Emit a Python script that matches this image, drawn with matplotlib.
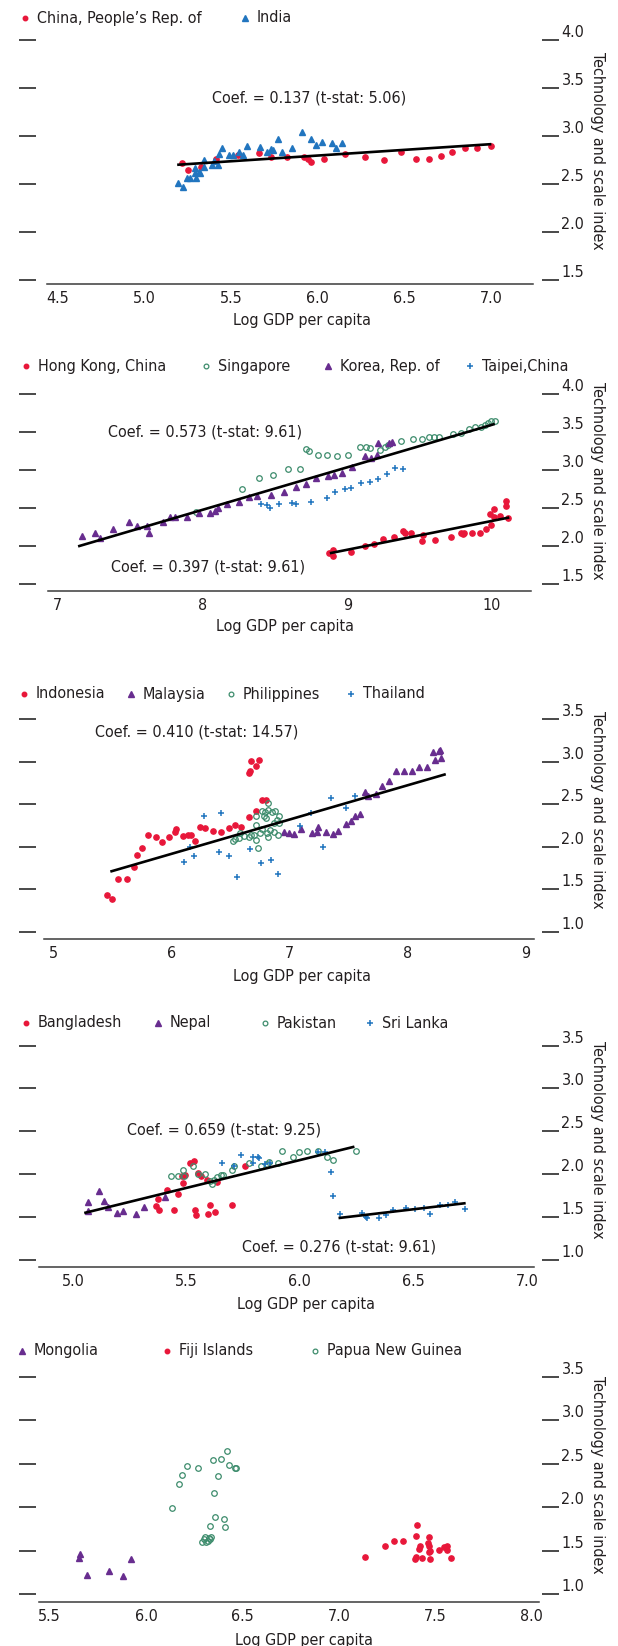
#!/usr/bin/env python3

import matplotlib
matplotlib.use("Agg")
import matplotlib.pyplot as plt
from matplotlib import font_manager
from matplotlib.lines import Line2D

W, H = 618, 1646

RED = "#e8173a"
BLUE = "#2175bf"
PURPLE = "#682d8f"
GREEN = "#3d8c6c"
INK = "#231f20"

# ---------- panel 1: China / India ----------
china_x = [5.217, 5.255, 5.329, 5.416, 5.542, 5.661, 5.729, 5.821, 5.919, 5.942, 5.961, 6.034,
           6.155, 6.274, 6.384, 6.480, 6.565, 6.641, 6.709, 6.773, 6.847, 6.920, 7.000]
china_y = [2.722, 2.646, 2.681, 2.757, 2.799, 2.826, 2.778, 2.778, 2.778, 2.764, 2.733, 2.760,
           2.813, 2.781, 2.750, 2.837, 2.760, 2.757, 2.795, 2.830, 2.878, 2.878, 2.896]
india_x = [5.194, 5.221, 5.249, 5.262, 5.290, 5.290, 5.297, 5.313, 5.324, 5.342, 5.347, 5.393,
           5.404, 5.423, 5.432, 5.446, 5.491, 5.514, 5.549, 5.571, 5.594, 5.668, 5.709, 5.732,
           5.743, 5.771, 5.794, 5.851, 5.908, 5.961, 5.988, 6.027, 6.080, 6.103, 6.137]
india_y = [2.514, 2.465, 2.559, 2.559, 2.611, 2.663, 2.559, 2.628, 2.611, 2.750, 2.681, 2.698,
           2.743, 2.698, 2.813, 2.872, 2.802, 2.802, 2.837, 2.802, 2.896, 2.882, 2.837, 2.865,
           2.854, 2.965, 2.837, 2.872, 3.045, 2.965, 2.906, 2.941, 2.931, 2.878, 2.924]
fit1_x = [5.19, 7.00]
fit1_y = [2.70, 2.915]

# ---------- panel 2: Hong Kong / Singapore / Korea / Taipei ----------
hk_x = [8.876, 8.904, 8.904, 9.025, 9.124, 9.184, 9.245, 9.321, 9.385, 9.398, 9.440, 9.519,
        9.527, 9.610, 9.720, 9.783, 9.797, 9.810, 9.865, 9.920, 9.959, 9.986, 9.995, 10.014,
        10.016, 10.058, 10.099, 10.099, 10.113]
hk_y = [1.917, 1.952, 1.873, 1.925, 2.009, 2.031, 2.092, 2.118, 2.202, 2.180, 2.180, 2.070,
        2.149, 2.083, 2.118, 2.180, 2.162, 2.180, 2.180, 2.180, 2.232, 2.425, 2.281, 2.382,
        2.496, 2.399, 2.601, 2.535, 2.368]
sing_x = [7.953, 8.272, 8.387, 8.484, 8.588, 8.676, 8.712, 8.739, 8.799, 8.860, 8.931, 9.005,
          9.088, 9.129, 9.157, 9.225, 9.261, 9.280, 9.371, 9.453, 9.514, 9.563, 9.602, 9.637,
          9.728, 9.788, 9.843, 9.885, 9.926, 9.953, 9.975, 9.995, 10.022]
sing_y = [2.456, 2.754, 2.895, 2.943, 3.022, 3.022, 3.276, 3.254, 3.202, 3.202, 3.189, 3.206,
          3.311, 3.311, 3.289, 3.268, 3.311, 3.333, 3.390, 3.412, 3.417, 3.434, 3.434, 3.443,
          3.478, 3.496, 3.539, 3.566, 3.566, 3.596, 3.627, 3.649, 3.649]
korea_x = [7.165, 7.255, 7.288, 7.379, 7.489, 7.549, 7.618, 7.632, 7.728, 7.777, 7.810, 7.893,
           7.975, 8.052, 8.085, 8.107, 8.168, 8.255, 8.319, 8.374, 8.470, 8.560, 8.648, 8.712,
           8.786, 8.868, 8.909, 8.964, 9.033, 9.124, 9.162, 9.206, 9.212, 9.288, 9.308]
korea_y = [2.136, 2.171, 2.105, 2.232, 2.320, 2.272, 2.272, 2.180, 2.316, 2.382, 2.382, 2.382,
           2.443, 2.434, 2.469, 2.500, 2.553, 2.588, 2.645, 2.662, 2.675, 2.715, 2.776, 2.816,
           2.904, 2.930, 2.939, 2.961, 3.039, 3.189, 3.158, 3.202, 3.355, 3.355, 3.377]
taipei_x = [8.401, 8.448, 8.464, 8.530, 8.621, 8.648, 8.750, 8.860, 8.918, 8.986, 9.027, 9.093,
            9.157, 9.212, 9.272, 9.330, 9.382]
taipei_y = [2.557, 2.544, 2.509, 2.553, 2.566, 2.553, 2.588, 2.640, 2.715, 2.750, 2.763, 2.838,
            2.851, 2.882, 2.947, 3.026, 3.018]
fit2a_x = [7.14, 10.02]
fit2a_y = [2.00, 3.61]
fit2b_x = [8.88, 10.12]
fit2b_y = [1.91, 2.38]

# ---------- panel 3: Indonesia / Malaysia / Philippines / Thailand ----------
indo_x = [5.455, 5.498, 5.549, 5.623, 5.677, 5.710, 5.744, 5.801, 5.869, 5.919, 5.976, 6.027,
          6.040, 6.094, 6.138, 6.162, 6.195, 6.236, 6.279, 6.347, 6.414, 6.481, 6.532, 6.589,
          6.650, 6.717, 6.768, 6.801, 6.650, 6.660, 6.673, 6.710, 6.741]
indo_y = [1.430, 1.391, 1.626, 1.626, 1.763, 1.908, 1.986, 2.135, 2.111, 2.056, 2.111, 2.174,
          2.213, 2.123, 2.142, 2.142, 2.072, 2.240, 2.221, 2.193, 2.174, 2.221, 2.260, 2.240,
          2.346, 2.428, 2.553, 2.553, 2.874, 2.897, 3.015, 2.956, 3.023]
malay_x = [6.953, 6.997, 7.037, 7.098, 7.189, 7.232, 7.239, 7.306, 7.367, 7.407, 7.475, 7.519,
           7.552, 7.593, 7.636, 7.660, 7.727, 7.778, 7.838, 7.902, 7.963, 8.030, 8.091, 8.158,
           8.215, 8.266, 8.232, 8.276, 8.273]
malay_y = [2.174, 2.162, 2.150, 2.209, 2.162, 2.174, 2.229, 2.174, 2.150, 2.182, 2.268, 2.307,
           2.358, 2.389, 2.643, 2.600, 2.624, 2.721, 2.780, 2.897, 2.897, 2.894, 2.944, 2.937,
           3.113, 3.132, 3.023, 3.042, 3.140]
phil_x = [6.515, 6.539, 6.566, 6.582, 6.616, 6.650, 6.673, 6.700, 6.710, 6.710, 6.717, 6.734,
          6.751, 6.768, 6.778, 6.791, 6.795, 6.808, 6.818, 6.818, 6.835, 6.845, 6.862, 6.869,
          6.875, 6.892, 6.902, 6.909, 6.912, 6.818, 6.768]
phil_y = [2.072, 2.092, 2.103, 2.162, 2.123, 2.111, 2.135, 2.135, 2.076, 2.358, 2.260, 1.986,
          2.162, 2.209, 2.358, 2.416, 2.338, 2.162, 2.436, 2.111, 2.201, 2.416, 2.279, 2.174,
          2.424, 2.319, 2.142, 2.365, 2.279, 2.514, 2.424]
thai_x = [6.104, 6.155, 6.189, 6.273, 6.397, 6.421, 6.481, 6.556, 6.660, 6.758, 6.842, 6.902,
          7.088, 7.182, 7.279, 7.347, 7.475, 7.552]
thai_y = [1.825, 2.005, 1.896, 2.358, 1.939, 2.397, 1.888, 1.646, 1.978, 1.810, 1.849, 1.677,
          2.248, 2.397, 1.998, 2.577, 2.455, 2.604]
fit3_x = [5.48, 8.32]
fit3_y = [1.71, 2.855]

# ---------- panel 4: Bangladesh / Nepal / Pakistan / Sri Lanka ----------
bang_x = [5.368, 5.377, 5.380, 5.415, 5.445, 5.462, 5.482, 5.485, 5.494, 5.517, 5.532, 5.538,
          5.541, 5.550, 5.564, 5.590, 5.594, 5.604, 5.625, 5.634, 5.701, 5.757]
bang_y = [1.630, 1.708, 1.575, 1.817, 1.575, 1.766, 1.972, 1.894, 1.984, 2.135, 2.155, 1.575,
          1.525, 2.011, 1.972, 1.933, 1.533, 1.641, 1.560, 1.902, 1.641, 2.100]
nepal_x = [5.068, 5.117, 5.138, 5.156, 5.193, 5.222, 5.278, 5.313, 5.406, 5.068]
nepal_y = [1.673, 1.797, 1.680, 1.614, 1.544, 1.572, 1.537, 1.610, 1.731, 1.572]
pak_x = [5.433, 5.462, 5.485, 5.489, 5.529, 5.550, 5.581, 5.604, 5.613, 5.622, 5.634, 5.651,
         5.660, 5.701, 5.709, 5.774, 5.827, 5.853, 5.862, 5.905, 5.923, 5.970, 5.996, 6.032,
         6.081, 6.119, 6.145, 6.247]
pak_y = [1.972, 1.980, 2.042, 1.972, 2.089, 1.999, 1.999, 1.914, 1.883, 1.933, 1.964, 1.988,
         1.984, 2.050, 2.096, 2.135, 2.100, 2.120, 2.139, 2.135, 2.264, 2.198, 2.260, 2.275,
         2.264, 2.198, 2.159, 2.275]
sri_x = [5.655, 5.709, 5.739, 5.792, 5.795, 5.814, 5.818, 5.844, 5.870, 6.081, 6.112, 6.137,
         6.145, 6.177, 6.273, 6.291, 6.294, 6.347, 6.378, 6.410, 6.466, 6.506, 6.545, 6.571,
         6.615, 6.653, 6.685, 6.729]
sri_y = [2.135, 2.100, 2.217, 2.198, 2.128, 2.198, 2.186, 2.120, 2.128, 2.256, 2.252, 2.023,
         1.747, 1.533, 1.544, 1.498, 1.482, 1.486, 1.525, 1.575, 1.603, 1.591, 1.603, 1.537,
         1.641, 1.641, 1.669, 1.595]
fit4a_x = [5.05, 6.24]
fit4a_y = [1.545, 2.32]
fit4b_x = [6.17, 6.73]
fit4b_y = [1.486, 1.66]

# ---------- panel 5: Mongolia / Fiji / Papua New Guinea ----------
mong_x = [5.649, 5.655, 5.692, 5.809, 5.882, 5.923]
mong_y = [1.410, 1.460, 1.219, 1.265, 1.211, 1.399]
fiji_x = [7.134, 7.237, 7.284, 7.332, 7.404, 7.398, 7.414, 7.418, 7.394, 7.398, 7.429, 7.464,
          7.460, 7.464, 7.470, 7.466, 7.470, 7.521, 7.542, 7.559, 7.559, 7.579]
fiji_y = [1.429, 1.556, 1.610, 1.610, 1.794, 1.671, 1.514, 1.556, 1.403, 1.429, 1.410, 1.652,
          1.583, 1.552, 1.499, 1.479, 1.399, 1.506, 1.537, 1.552, 1.506, 1.418]
png_x = [6.135, 6.170, 6.187, 6.210, 6.267, 6.329, 6.346, 6.352, 6.356, 6.370, 6.387, 6.403,
         6.410, 6.418, 6.428, 6.459, 6.465, 6.290, 6.298, 6.304, 6.311, 6.319, 6.325, 6.331, 6.335]
png_y = [1.985, 2.265, 2.365, 2.472, 2.446, 1.778, 2.541, 2.162, 1.890, 2.357, 2.553, 1.859,
         1.767, 2.641, 2.480, 2.453, 2.453, 1.594, 1.629, 1.660, 1.602, 1.613, 1.640, 1.629, 1.660]

STYLES = {
    "dot": dict(marker="o", color=RED, markersize=3.8, linestyle="none"),
    "tri": dict(marker="^", color=PURPLE, markersize=4.4, linestyle="none"),
    "tri_blue": dict(marker="^", color=BLUE, markersize=4.4, linestyle="none"),
    "ring": dict(marker="o", markerfacecolor="none", markeredgecolor=GREEN, markeredgewidth=0.9,
                 markersize=4.0, linestyle="none"),
    "plus": dict(marker="+", color=BLUE, markersize=4.7, markeredgewidth=1.1, linestyle="none"),
}

# narrow font if we can find one, the original uses a condensed face
FS = 11.5
names = {f.name for f in font_manager.fontManager.ttflist}
cond = [f for f in font_manager.fontManager.ttflist
        if f.name == "DejaVu Sans" and f.stretch == "condensed" and f.weight in (400, "normal")]
if "Liberation Sans Narrow" in names:
    plt.rcParams["font.family"] = ["Liberation Sans Narrow", "DejaVu Sans"]
    FS = 12.5
elif cond:
    plt.rcParams["font.family"] = ["DejaVu Sans"]
    plt.rcParams["font.stretch"] = "condensed"
    FS = 11.5
elif "Roboto Condensed" in names:
    plt.rcParams["font.family"] = ["Roboto Condensed", "DejaVu Sans"]
    FS = 12.5
else:
    plt.rcParams["font.family"] = ["Roboto", "DejaVu Sans"]
    FS = 11.5
plt.rcParams["font.size"] = FS
plt.rcParams["text.color"] = INK

fig = plt.figure(figsize=(W / 100, H / 100), dpi=100)


def fx(px):
    return px / W


def fy(py):
    return 1 - py / H


def make_axes(left, right, top, bottom, xlim, xticks, xlabels, ylim, yticks):
    ax = fig.add_axes([fx(left), fy(bottom), fx(right - left), (bottom - top) / H])
    ax.set_xlim(*xlim)
    ax.set_ylim(*ylim)
    ax.set_xticks(xticks)
    ax.set_xticklabels(xlabels)
    ax.set_yticks(yticks)
    ax.set_yticklabels(["%.1f" % v for v in yticks])
    for s in ["top", "left", "right"]:
        ax.spines[s].set_visible(False)
    ax.spines["bottom"].set_color("#3a3a3a")
    ax.spines["bottom"].set_linewidth(1.1)
    # dash ticks start at fixed pixel columns
    ax.spines["left"].set_position(("outward", max(left - 36, 0) * 0.72))
    ax.spines["right"].set_position(("outward", max(542 - right, 0) * 0.72))
    ax.tick_params(axis="x", length=0, pad=5, colors=INK, labelsize=FS)
    ax.tick_params(axis="y", left=True, right=True, labelleft=False, labelright=True,
                   length=12, width=1.3, color="#3a3a3a", pad=2, labelsize=FS,
                   labelcolor=INK)
    for t in ax.yaxis.get_major_ticks():
        t.label2.set_va("bottom")
    ax.set_facecolor("none")
    return ax


def legend_item(x, y, style, text):
    st = dict(STYLES[style])
    st["markersize"] = st["markersize"] * 0.85
    fig.add_artist(Line2D([fx(x)], [fy(y)], transform=fig.transFigure, **st))
    fig.text(fx(x + 12), fy(y), text, va="center", ha="left", fontsize=FS)


def side_labels(ycenter, xlab_x, xlab_y):
    fig.text(fx(597), fy(ycenter), "Technology and scale index", rotation=270,
             va="center", ha="center", fontsize=FS)
    fig.text(fx(xlab_x), fy(xlab_y), "Log GDP per capita", va="center", ha="center",
             fontsize=FS)


def scatter(ax, xs, ys, style):
    ax.plot(xs, ys, clip_on=False, **STYLES[style])


def fit(ax, xs, ys):
    ax.plot(xs, ys, color="black", linewidth=1.9, solid_capstyle="butt")


# panel 1
ax1 = make_axes(47, 533, 40, 284, (4.44, 7.24), [4.5, 5.0, 5.5, 6.0, 6.5, 7.0],
                ["4.5", "5.0", "5.5", "6.0", "6.5", "7.0"], (1.458, 4.0),
                [1.5, 2.0, 2.5, 3.0, 3.5, 4.0])
scatter(ax1, china_x, china_y, "dot")
scatter(ax1, india_x, india_y, "tri_blue")
fit(ax1, fit1_x, fit1_y)
ax1.text(5.95, 3.40, "Coef. = 0.137 (t-stat: 5.06)", ha="center", va="center")
legend_item(25, 18, "dot", "China, People\u2019s Rep. of")
legend_item(245, 18, "tri_blue", "India")
side_labels(151, 302, 320)

# panel 2
ax2 = make_axes(47.7, 531, 394.3, 590.7, (6.93, 10.27), [7, 8, 9, 10],
                ["7", "8", "9", "10"], (1.417, 4.0), [1.5, 2.0, 2.5, 3.0, 3.5, 4.0])
scatter(ax2, hk_x, hk_y, "dot")
scatter(ax2, sing_x, sing_y, "ring")
scatter(ax2, korea_x, korea_y, "tri")
scatter(ax2, taipei_x, taipei_y, "plus")
fit(ax2, fit2a_x, fit2a_y)
fit(ax2, fit2b_x, fit2b_y)
ax2.text(8.016, 3.509, "Coef. = 0.573 (t-stat: 9.61)", ha="center", va="center")
ax2.text(8.036, 1.724, "Coef. = 0.397 (t-stat: 9.61)", ha="center", va="center")
legend_item(26, 366, "dot", "Hong Kong, China")
legend_item(206, 366, "ring", "Singapore")
legend_item(328, 366, "tri", "Korea, Rep. of")
legend_item(470, 366, "plus", "Taipei,China")
side_labels(481, 285, 627)

# panel 3
ax3 = make_axes(43.7, 534, 719.3, 939, (4.916, 9.067), [5, 6, 7, 8, 9],
                ["5", "6", "7", "8", "9"], (0.918, 3.5), [1.0, 1.5, 2.0, 2.5, 3.0, 3.5])
scatter(ax3, indo_x, indo_y, "dot")
scatter(ax3, malay_x, malay_y, "tri")
scatter(ax3, phil_x, phil_y, "ring")
scatter(ax3, thai_x, thai_y, "plus")
fit(ax3, fit3_x, fit3_y)
ax3.text(6.212, 3.355, "Coef. = 0.410 (t-stat: 14.57)", ha="center", va="center")
legend_item(24, 694, "dot", "Indonesia")
legend_item(131, 694, "tri", "Malaysia")
legend_item(231, 694, "ring", "Philippines")
legend_item(351, 694, "plus", "Thailand")
side_labels(810, 302, 976)

# panel 4
ax4 = make_axes(38.6, 534, 1045.7, 1267, (4.849, 7.031), [5.0, 5.5, 6.0, 6.5, 7.0],
                ["5.0", "5.5", "6.0", "6.5", "7.0"], (0.914, 3.5),
                [1.0, 1.5, 2.0, 2.5, 3.0, 3.5])
scatter(ax4, bang_x, bang_y, "dot")
scatter(ax4, nepal_x, nepal_y, "tri")
scatter(ax4, pak_x, pak_y, "ring")
scatter(ax4, sri_x, sri_y, "plus")
fit(ax4, fit4a_x, fit4a_y)
fit(ax4, fit4b_x, fit4b_y)
ax4.text(5.666, 2.516, "Coef. = 0.659 (t-stat: 9.25)", ha="center", va="center")
ax4.text(6.173, 1.148, "Coef. = 0.276 (t-stat: 9.61)", ha="center", va="center")
legend_item(26, 1023, "dot", "Bangladesh")
legend_item(158, 1023, "tri", "Nepal")
legend_item(265, 1023, "ring", "Pakistan")
legend_item(370, 1023, "plus", "Sri Lanka")
side_labels(1140, 306, 1304)

# panel 5
ax5 = make_axes(38.6, 539, 1376.7, 1601.7, (5.442, 8.037), [5.5, 6.0, 6.5, 7.0, 7.5, 8.0],
                ["5.5", "6.0", "6.5", "7.0", "7.5", "8.0"], (0.912, 3.5),
                [1.0, 1.5, 2.0, 2.5, 3.0, 3.5])
scatter(ax5, mong_x, mong_y, "tri")
scatter(ax5, fiji_x, fiji_y, "dot")
scatter(ax5, png_x, png_y, "ring")
legend_item(22, 1351, "tri", "Mongolia")
legend_item(167, 1351, "dot", "Fiji Islands")
legend_item(315, 1351, "ring", "Papua New Guinea")
side_labels(1475, 304, 1640)

fig.savefig("out.png", dpi=100)
